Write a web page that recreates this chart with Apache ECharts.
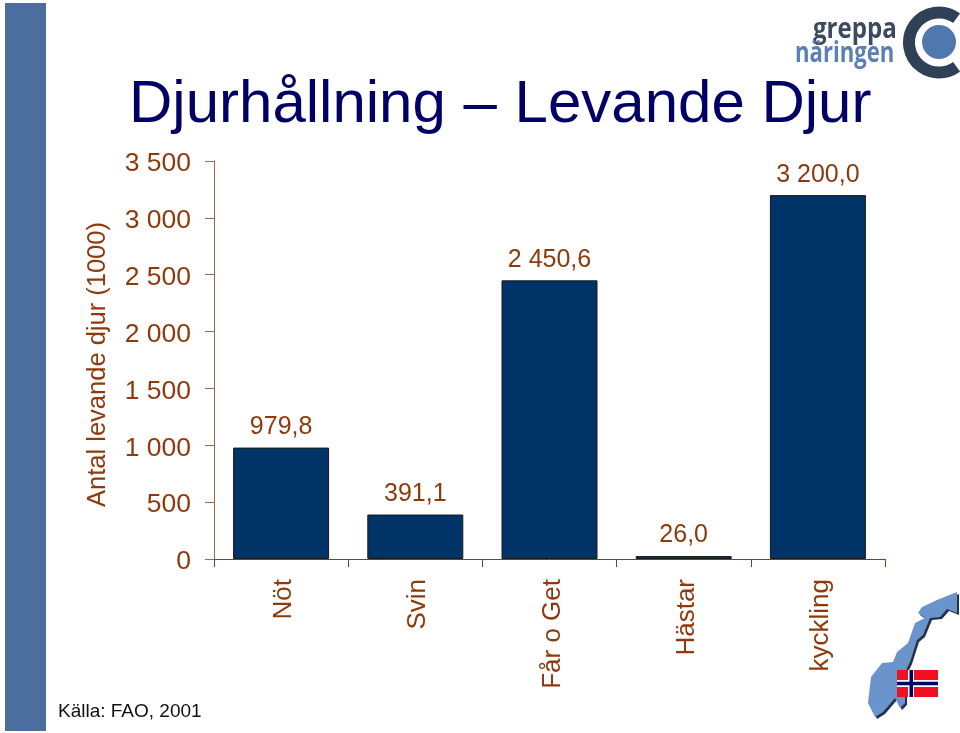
<!DOCTYPE html>
<html>
<head>
<meta charset="utf-8">
<style>
  html, body { margin: 0; padding: 0; background: #fff; }
  #chart { width: 960px; height: 733px; }
</style>
<script src="https://cdn.jsdelivr.net/npm/echarts@6/dist/echarts.min.js"></script>
</head>
<body>
<div id="chart"></div>
<script>
const categories = ['Nöt', 'Svin', 'Får o Get', 'Hästar', 'kyckling'];
const animals = [979.8, 391.1, 2450.6, 26.0, 3200.0];
const axisTitle = 'Antal levande djur (1000)';
const sourceText = 'Källa: FAO, 2001';

const font = '"Liberation Sans", Arial, sans-serif';
const brown = '#8f3a0c';

// outline of the map picture, bottom right
const norway = [[875,717],[868,703],[871,677],[882,663],[893,662],[897,652],[908,643],[915,623],[925,618],[918,613],[922,607],[937,600],[957,592],[957,613],[947,609],[940,617],[930,618],[923,635],[917,640],[910,662],[907,668],[905,687],[905,703],[900,708],[895,698],[883,712]];

// 3 200,0 style labels
function fmt(v, decimals) {
    const parts = v.toFixed(decimals).split('.');
    const whole = parts[0].replace(/\B(?=(\d{3})+$)/g, ' ');
    return parts[1] ? whole + ',' + parts[1] : whole;
}

const chart = echarts.init(document.getElementById('chart'), null, { renderer: 'canvas' });

chart.setOption({
    animation: false,
    backgroundColor: '#fff',
    title: {
        text: 'Djurhållning {dash|–} Levande Djur',
        left: 124,
        top: 70,
        textStyle: {
            fontFamily: font,
            fontSize: 60,
            fontWeight: 'normal',
            color: '#000066',
            rich: {
                dash: { fontFamily: font, fontSize: 60, color: '#000066', padding: [0, 1, 0, 1] }
            }
        }
    },
    grid: { left: 214, right: 75, top: 161, bottom: 174 },
    xAxis: {
        type: 'category',
        data: categories,
        boundaryGap: true,
        axisLine: { lineStyle: { color: brown, width: 1 } },
        axisTick: { show: true, alignWithLabel: false, length: 8, lineStyle: { color: brown } },
        axisLabel: {
            rotate: 90,
            margin: 20,
            interval: 0,
            formatter: v => '{v|' + v + '}',
            rich: { v: { fontFamily: font, fontSize: 26, color: brown, padding: [6, 0, 0, 0] } }
        }
    },
    yAxis: {
        type: 'value',
        min: 0,
        max: 3500,
        interval: 500,
        splitLine: { show: false },
        axisLine: { show: true, lineStyle: { color: '#a5694a', width: 1 } },
        axisTick: { show: true, length: 9, lineStyle: { color: '#a5694a' } },
        axisLabel: {
            margin: 23,
            formatter: v => '{v|' + fmt(v, 0) + '}',
            rich: { v: { fontFamily: font, fontSize: 26.5, color: brown, padding: [6, 0, 0, 0] } }
        }
    },
    series: [{
        type: 'bar',
        data: animals,
        barWidth: 96,
        itemStyle: { color: '#003366', borderColor: '#1a1a1a', borderWidth: 1 },
        label: {
            show: true,
            position: 'top',
            distance: 8,
            fontFamily: font,
            fontSize: 25,
            color: brown,
            formatter: p => fmt(p.value, 1)
        }
    }],
    graphic: [
        { type: 'rect', z: 0, shape: { x: 5, y: 3, width: 41, height: 728 }, style: { fill: '#4c6e9e' } },
        {
            type: 'text', x: 97.5, y: 364.5, rotation: Math.PI / 2,
            style: { text: axisTitle, font: '25.5px ' + font, fill: brown, align: 'center', verticalAlign: 'middle' }
        },
        {
            type: 'text', x: 58, y: 712,
            style: { text: sourceText, font: '19px ' + font, fill: '#111', align: 'left', verticalAlign: 'middle' }
        },
        // logo
        {
            type: 'text', x: 813, y: 30, scaleX: 0.86,
            style: { text: 'greppa', font: 'bold 28px "Open Sans", ' + font, fill: '#3c4a5e', align: 'left', verticalAlign: 'middle' }
        },
        {
            type: 'text', x: 795, y: 54, scaleX: 0.79,
            style: { text: 'näringen', font: 'bold 28px "Open Sans", ' + font, fill: '#5a80b4', align: 'left', verticalAlign: 'middle' }
        },
        {
            type: 'arc',
            shape: { cx: 939, cy: 42.5, r: 30, startAngle: -Math.PI * 0.3, endAngle: Math.PI * 0.3, clockwise: false },
            style: { stroke: '#2f4057', lineWidth: 12, fill: null, lineCap: 'butt' }
        },
        { type: 'circle', shape: { cx: 939, cy: 42, r: 17 }, style: { fill: '#4f78ae' } },
        // map and flag
        { type: 'polygon', x: 2, y: 2, shape: { points: norway }, style: { fill: '#26324a' } },
        { type: 'polygon', shape: { points: norway }, style: { fill: '#6a94cc' } },
        { type: 'rect', shape: { x: 897, y: 670, width: 41, height: 27 }, style: { fill: '#f01020' } },
        { type: 'rect', shape: { x: 908, y: 670, width: 6, height: 27 }, style: { fill: '#fff' } },
        { type: 'rect', shape: { x: 897, y: 680, width: 41, height: 7 }, style: { fill: '#fff' } },
        { type: 'rect', shape: { x: 909.5, y: 670, width: 3.5, height: 27 }, style: { fill: '#000066' } },
        { type: 'rect', shape: { x: 897, y: 681.8, width: 41, height: 3.4 }, style: { fill: '#000066' } }
    ]
});
</script>
</body>
</html>
